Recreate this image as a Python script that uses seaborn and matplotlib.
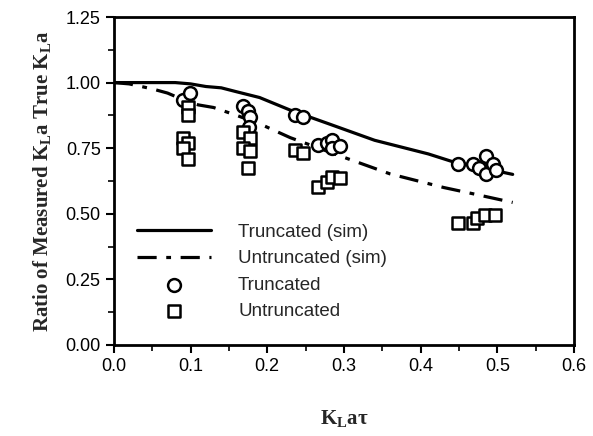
import numpy as np
import pandas as pd
import matplotlib
matplotlib.use("Agg")
import matplotlib.pyplot as plt
from matplotlib.ticker import MultipleLocator
import seaborn as sns

# simulated curves
trunc_sim_x = [0.0, 0.03, 0.06, 0.08, 0.10, 0.12, 0.14, 0.16, 0.19, 0.23, 0.28, 0.34, 0.41, 0.44, 0.48, 0.52]
trunc_sim_y = [1.0, 1.0, 1.0, 1.0, 0.995, 0.985, 0.98, 0.965, 0.943, 0.895, 0.843, 0.78, 0.728, 0.70, 0.675, 0.65]

untrunc_sim_x = [0.0, 0.02, 0.05, 0.07, 0.09, 0.11, 0.13, 0.16, 0.19, 0.23, 0.30, 0.36, 0.43, 0.47, 0.52]
untrunc_sim_y = [1.0, 0.995, 0.976, 0.96, 0.935, 0.915, 0.905, 0.875, 0.843, 0.79, 0.715, 0.652, 0.60, 0.575, 0.543]

# measured points
trunc_x = [0.090, 0.099, 0.168, 0.175, 0.177, 0.176, 0.236, 0.247,
           0.266, 0.278, 0.284, 0.284, 0.295,
           0.449, 0.468, 0.476, 0.485, 0.485, 0.494, 0.498]
trunc_y = [0.935, 0.96, 0.91, 0.89, 0.87, 0.83, 0.878, 0.87,
           0.763, 0.77, 0.78, 0.75, 0.757,
           0.69, 0.69, 0.675, 0.72, 0.65, 0.69, 0.668]

untrunc_x = [0.097, 0.097, 0.090, 0.097, 0.090, 0.097,
             0.168, 0.177, 0.168, 0.177, 0.175,
             0.236, 0.247, 0.266, 0.278, 0.284, 0.295,
             0.449, 0.468, 0.474, 0.484, 0.497]
untrunc_y = [0.905, 0.878, 0.79, 0.77, 0.75, 0.71,
             0.81, 0.79, 0.75, 0.74, 0.675,
             0.744, 0.733, 0.60, 0.62, 0.64, 0.635,
             0.465, 0.465, 0.485, 0.496, 0.496]

sns.set_theme(style="ticks")
plt.rcParams["font.family"] = ["Liberation Sans", "DejaVu Sans"]
plt.rcParams["mathtext.fontset"] = "custom"
plt.rcParams["mathtext.rm"] = "Liberation Serif:bold"

fig = plt.figure(figsize=(5.93, 4.36), dpi=100)
ax = fig.add_axes([0.192, 0.209, 0.776, 0.752])

sim_t = pd.DataFrame({"x": trunc_sim_x, "y": trunc_sim_y})
sim_u = pd.DataFrame({"x": untrunc_sim_x, "y": untrunc_sim_y})
pts_t = pd.DataFrame({"x": trunc_x, "y": trunc_y})
pts_u = pd.DataFrame({"x": untrunc_x, "y": untrunc_y})

sns.lineplot(data=sim_t, x="x", y="y", ax=ax, color="black", lw=2.3,
             label="Truncated (sim)", sort=False)
sns.lineplot(data=sim_u, x="x", y="y", ax=ax, color="black", lw=2.3,
             linestyle=(0, (6, 3, 1.5, 3)), label="Untruncated (sim)", sort=False)
sns.scatterplot(data=pts_t, x="x", y="y", ax=ax, marker="o", s=85,
                facecolor="white", edgecolor="black", linewidth=1.8,
                label="Truncated", zorder=3)
sns.scatterplot(data=pts_u, x="x", y="y", ax=ax, marker="s", s=85,
                facecolor="white", edgecolor="black", linewidth=1.8,
                label="Untruncated", zorder=3)

ax.set_xlim(0, 0.6)
ax.set_ylim(0, 1.25)
ax.xaxis.set_major_locator(MultipleLocator(0.1))
ax.xaxis.set_minor_locator(MultipleLocator(0.05))
ax.yaxis.set_major_locator(MultipleLocator(0.25))
ax.yaxis.set_minor_locator(MultipleLocator(0.125))
ax.xaxis.set_major_formatter(matplotlib.ticker.FormatStrFormatter("%.1f"))
ax.yaxis.set_major_formatter(matplotlib.ticker.FormatStrFormatter("%.2f"))
ax.tick_params(which="major", length=6, width=1.5, labelsize=13, color="black", labelcolor="black")
ax.tick_params(which="minor", length=4, width=1.2, color="black")
for sp in ax.spines.values():
    sp.set_visible(True)
    sp.set_linewidth(2)
    sp.set_color("black")

serif = dict(family=["Liberation Serif", "DejaVu Serif"], weight="bold", size=15)
ax.set_ylabel(r"Ratio of Measured K$_\mathrm{L}$a True K$_\mathrm{L}$a", fontdict=serif, labelpad=8)
ax.set_xlabel(r"K$_\mathrm{L}$aτ", fontdict=serif, labelpad=24)

leg = ax.legend(loc="lower left", bbox_to_anchor=(0.0135, 0.024), frameon=False,
                fontsize=13.5, handlelength=3.95, handletextpad=1.44, labelspacing=0.5)

fig.savefig("out.png", dpi=100)
